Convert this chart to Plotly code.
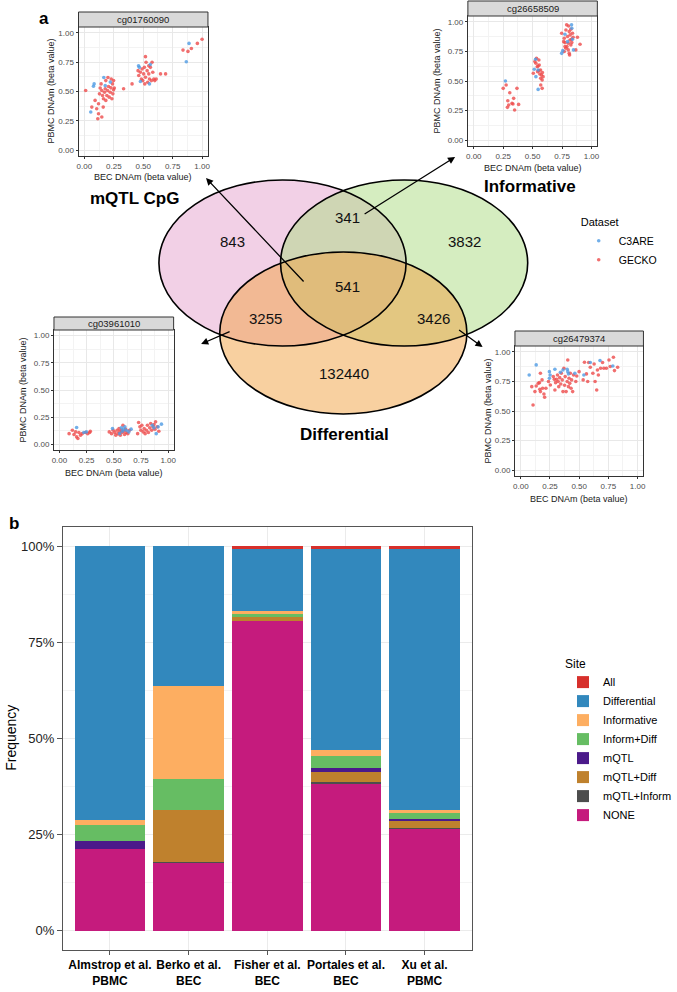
import plotly.graph_objects as go

W, H = 677, 992
FONT = "Liberation Sans, Arial, sans-serif"


def px(x):
    return x / W


def py(y):
    return 1 - y / H


# ---------------- panel b: stacked bars (% of sites) ----------------
studies = ["Almstrop et al.<br>PBMC", "Berko et al.<br>BEC", "Fisher et al.<br>BEC",
           "Portales et al.<br>BEC", "Xu et al.<br>PBMC"]
site_names = ["NONE", "mQTL+Inform", "mQTL+Diff", "mQTL", "Inform+Diff",
              "Informative", "Differential", "All"]
site_colors = ["#C51B7D", "#4D4D4D", "#BF812D", "#4B1A8A", "#66BD63",
               "#FDAE61", "#3288BD", "#D7302C"]
none_pct = [21.3, 17.7, 80.5, 38.4, 26.7]
mqtl_inform_pct = [0.0, 0.2, 0.0, 0.2, 0.1]
mqtl_diff_pct = [0.0, 13.5, 1.0, 2.7, 1.8]
mqtl_pct = [2.1, 0.0, 0.0, 1.0, 0.5]
inform_diff_pct = [4.1, 8.0, 0.8, 3.2, 1.6]
informative_pct = [1.3, 24.3, 0.8, 1.4, 0.7]
differential_pct = [71.2, 36.3, 16.4, 52.6, 68.1]
all_pct = [0.0, 0.0, 0.5, 0.5, 0.5]
site_values = [none_pct, mqtl_inform_pct, mqtl_diff_pct, mqtl_pct,
               inform_diff_pct, informative_pct, differential_pct, all_pct]

# ---------------- panel a: venn counts ----------------
venn_counts = [843, 341, 3832, 541, 3255, 3426, 132440]
venn_sets = ["mQTL CpG", "Informative", "Differential"]

# ---------------- panel a: example CpGs, (BEC, PBMC) beta values ----------------
cg01760090_gecko = [
    (0.011, 0.508), (0.063, 0.367), (0.091, 0.424), (0.105, 0.353), (0.114, 0.268),
    (0.12, 0.395), (0.128, 0.48), (0.134, 0.53), (0.142, 0.565), (0.148, 0.508),
    (0.154, 0.466), (0.16, 0.367), (0.162, 0.438), (0.171, 0.494), (0.177, 0.523),
    (0.182, 0.593), (0.191, 0.466), (0.197, 0.508), (0.2, 0.62), (0.205, 0.542),
    (0.211, 0.452), (0.219, 0.494), (0.225, 0.531), (0.228, 0.607), (0.234, 0.438),
    (0.239, 0.565), (0.242, 0.48), (0.248, 0.593), (0.248, 0.514), (0.254, 0.53),
    (0.148, 0.282), (0.12, 0.31), (0.182, 0.424), (0.333, 0.523), (0.405, 0.565),
    (0.456, 0.678), (0.462, 0.636), (0.476, 0.664), (0.484, 0.607), (0.49, 0.692),
    (0.496, 0.593), (0.504, 0.65), (0.51, 0.706), (0.519, 0.797), (0.519, 0.621),
    (0.524, 0.749), (0.533, 0.678), (0.538, 0.579), (0.547, 0.65), (0.553, 0.607),
    (0.561, 0.706), (0.57, 0.593), (0.575, 0.749), (0.581, 0.664), (0.59, 0.607),
    (0.598, 0.593), (0.61, 0.607), (0.647, 0.65), (0.69, 0.65), (0.547, 0.72),
    (0.513, 0.565), (0.838, 0.853), (0.88, 0.842), (0.909, 0.867), (0.96, 0.91),
    (1.0, 0.946),
]
cg01760090_c3are = [
    (0.083, 0.565), (0.077, 0.545), (0.054, 0.325), (0.165, 0.62), (0.177, 0.55),
    (0.22, 0.58), (0.46, 0.72), (0.467, 0.706), (0.476, 0.585), (0.56, 0.73),
    (0.553, 0.565), (0.866, 0.754), (0.889, 0.91),
]
cg26658509_gecko = [
    (0.25, 0.438), (0.275, 0.466), (0.306, 0.401), (0.289, 0.333), (0.297, 0.297),
    (0.286, 0.277), (0.325, 0.311), (0.339, 0.353), (0.333, 0.305), (0.347, 0.254),
    (0.367, 0.438), (0.381, 0.302), (0.506, 0.565), (0.519, 0.664), (0.528, 0.65),
    (0.533, 0.692), (0.539, 0.621), (0.542, 0.579), (0.553, 0.678), (0.556, 0.636),
    (0.561, 0.559), (0.567, 0.593), (0.569, 0.523), (0.575, 0.551), (0.581, 0.508),
    (0.583, 0.571), (0.589, 0.537), (0.569, 0.466), (0.581, 0.438), (0.553, 0.588),
    (0.547, 0.627), (0.747, 0.904), (0.769, 0.862), (0.775, 0.825), (0.783, 0.932),
    (0.789, 0.975), (0.792, 0.791), (0.797, 0.876), (0.803, 0.819), (0.806, 0.966),
    (0.811, 0.918), (0.811, 0.734), (0.817, 0.847), (0.819, 0.89), (0.825, 0.805),
    (0.825, 0.938), (0.831, 0.853), (0.833, 0.825), (0.839, 0.904), (0.844, 0.87),
    (0.769, 0.749), (0.783, 0.777), (0.803, 0.763), (0.814, 0.72), (0.867, 0.763),
    (0.881, 0.87), (0.903, 0.811), (0.775, 0.791), (0.764, 0.833),
]
cg26658509_c3are = [
    (0.269, 0.5), (0.525, 0.684), (0.514, 0.599), (0.528, 0.537), (0.547, 0.593),
    (0.547, 0.429), (0.747, 0.734), (0.756, 0.757), (0.775, 0.895), (0.797, 0.833),
    (0.833, 0.946), (0.839, 0.853), (0.847, 0.763), (0.831, 0.975),
]
cg03961010_gecko = [
    (0.089, 0.1), (0.119, 0.131), (0.134, 0.092), (0.149, 0.116), (0.158, 0.07),
    (0.17, 0.055), (0.179, 0.11), (0.194, 0.086), (0.209, 0.1), (0.239, 0.11),
    (0.26, 0.1), (0.284, 0.122), (0.278, 0.11), (0.458, 0.116), (0.479, 0.1),
    (0.494, 0.131), (0.509, 0.11), (0.518, 0.086), (0.53, 0.131), (0.539, 0.1),
    (0.548, 0.147), (0.554, 0.116), (0.56, 0.086), (0.569, 0.131), (0.575, 0.11),
    (0.584, 0.177), (0.59, 0.122), (0.599, 0.092), (0.608, 0.141), (0.614, 0.11),
    (0.629, 0.1), (0.644, 0.131), (0.728, 0.202), (0.74, 0.162), (0.749, 0.131),
    (0.758, 0.177), (0.77, 0.116), (0.779, 0.147), (0.788, 0.1), (0.8, 0.131),
    (0.809, 0.177), (0.818, 0.11), (0.83, 0.153), (0.839, 0.193), (0.848, 0.131),
    (0.86, 0.162), (0.869, 0.183), (0.878, 0.141), (0.884, 0.208), (0.899, 0.162),
    (0.914, 0.122), (0.719, 0.1),
]
cg03961010_c3are = [
    (0.158, 0.156), (0.224, 0.11), (0.248, 0.116), (0.488, 0.147), (0.569, 0.153),
    (0.578, 0.122), (0.59, 0.141), (0.602, 0.162), (0.614, 0.131), (0.638, 0.116),
    (0.659, 0.141), (0.554, 0.1), (0.854, 0.177), (0.869, 0.153), (0.89, 0.1),
    (0.938, 0.187), (0.908, 0.162),
]
cg26479374_gecko = [
    (0.105, 0.551), (0.094, 0.706), (0.121, 0.664), (0.132, 0.712), (0.149, 0.734),
    (0.16, 0.74), (0.163, 0.684), (0.168, 0.664), (0.182, 0.763), (0.187, 0.692),
    (0.198, 0.644), (0.204, 0.616), (0.215, 0.692), (0.168, 0.819), (0.237, 0.749),
    (0.253, 0.72), (0.278, 0.791), (0.287, 0.768), (0.292, 0.678), (0.298, 0.74),
    (0.306, 0.768), (0.314, 0.805), (0.32, 0.749), (0.325, 0.706), (0.333, 0.782),
    (0.342, 0.729), (0.347, 0.819), (0.355, 0.763), (0.361, 0.664), (0.369, 0.862),
    (0.375, 0.718), (0.38, 0.791), (0.388, 0.664), (0.397, 0.749), (0.402, 0.932),
    (0.408, 0.706), (0.413, 0.777), (0.419, 0.734), (0.424, 0.819), (0.43, 0.692),
    (0.435, 0.763), (0.444, 0.664), (0.452, 0.805), (0.471, 0.749), (0.479, 0.796),
    (0.499, 0.833), (0.534, 0.763), (0.545, 0.912), (0.562, 0.814), (0.573, 0.749),
    (0.581, 0.91), (0.595, 0.87), (0.617, 0.819), (0.628, 0.898), (0.636, 0.749),
    (0.65, 0.678), (0.656, 0.847), (0.664, 0.805), (0.683, 0.862), (0.7, 0.91),
    (0.711, 0.862), (0.733, 0.862), (0.755, 0.932), (0.766, 0.876), (0.793, 0.955),
    (0.802, 0.842), (0.829, 0.87),
]
cg26479374_c3are = [
    (0.072, 0.805), (0.132, 0.89), (0.245, 0.833), (0.251, 0.805), (0.245, 0.777),
    (0.292, 0.853), (0.339, 0.828), (0.361, 0.847), (0.397, 0.853), (0.402, 0.833),
    (0.408, 0.814), (0.463, 0.819), (0.595, 0.91), (0.678, 0.927), (0.788, 0.881),
    (0.54, 0.805),
]

GECKO_COL = "#EE4B4B"
C3ARE_COL = "#4F9BE3"

fig = go.Figure()


def note(text, x, y, size, angle=0, xanchor="center", color="#1A1A1A"):
    # plain text placed in page pixels
    return dict(text=text, xref="paper", yref="paper", x=px(x), y=py(y),
                xanchor=xanchor, yanchor="middle", textangle=angle, showarrow=False,
                font=dict(size=size, color=color))


# ---------------- bars ----------------
for name, col, vals in zip(site_names, site_colors, site_values):
    fig.add_trace(go.Bar(
        x=studies, y=[v / 100 for v in vals], name=name,
        marker=dict(color=col, line=dict(width=0)), width=0.9,
        xaxis="x", yaxis="y", legend="legend",
    ))

# ---------------- scatter panels ----------------
# (cpg, gecko, c3are, panel box l,t,r,b in px, ytitle x, xtitle y)
panels = [
    ("cg01760090", cg01760090_gecko, cg01760090_c3are, (78, 27, 210, 156), 49, 177),
    ("cg26658509", cg26658509_gecko, cg26658509_c3are, (475, 16, 607, 146), 444, 168),
    ("cg03961010", cg03961010_gecko, cg03961010_c3are, (53, 330, 175, 450), 21, 473),
    ("cg26479374", cg26479374_gecko, cg26479374_c3are, (523, 346, 654, 476), 496, 499),
]

shapes = []
annotations = []
layout_axes = {}

for i, (cpg, gecko, c3are, box, ytx, xty) in enumerate(panels):
    n = i + 2
    l, t, r, b = box
    for nm, pts, col in (("GECKO", gecko, GECKO_COL), ("C3ARE", c3are, C3ARE_COL)):
        fig.add_trace(go.Scatter(
            x=[p[0] for p in pts], y=[p[1] for p in pts], mode="markers", name=nm,
            marker=dict(color=col, size=3.6, opacity=0.8),
            xaxis=f"x{n}", yaxis=f"y{n}", legend="legend2",
            legendgroup=nm, showlegend=(i == 0),
        ))
    ax = dict(
        range=[-0.05, 1.05], tickvals=[0, 0.25, 0.5, 0.75, 1],
        ticktext=["0.00", "0.25", "0.50", "0.75", "1.00"],
        showgrid=True, gridcolor="#E8E8E8", gridwidth=0.8,
        minor=dict(tickvals=[0.125, 0.375, 0.625, 0.875], showgrid=True,
                   gridcolor="#F3F3F3", gridwidth=0.6),
        zeroline=False, showline=True, mirror=True, linecolor="#333333", linewidth=1,
        ticks="outside", ticklen=2, tickcolor="#333333",
        tickfont=dict(size=8, color="#4D4D4D"), fixedrange=True,
    )
    layout_axes[f"xaxis{n}"] = dict(ax, domain=[px(l), px(r)], anchor=f"y{n}")
    layout_axes[f"yaxis{n}"] = dict(ax, domain=[py(b), py(t)], anchor=f"x{n}")
    # facet strip
    strip_h = 15 if i != 2 else 13
    shapes.append(dict(type="rect", xref="paper", yref="paper",
                       x0=px(l), x1=px(r), y0=py(t), y1=py(t - strip_h),
                       fillcolor="#D9D9D9", line=dict(color="#333333", width=1)))
    annotations.append(note(cpg, (l + r) / 2, t - strip_h / 2, 9.5))
    annotations.append(note("PBMC DNAm (beta value)", ytx, (t + b) / 2, 9, angle=-90))
    annotations.append(note("BEC DNAm (beta value)", (l + r) / 2, xty, 9))

# ---------------- venn ellipses ----------------
ellipses = [
    ((160, 180, 412, 346), "rgba(229,161,205,0.5)"),
    ((284, 180, 536, 346), "rgba(171,219,129,0.5)"),
    ((222, 252, 474, 414), "rgba(241,161,65,0.5)"),
]
for (x0, y0, x1, y1), fc in ellipses:
    shapes.append(dict(type="circle", xref="paper", yref="paper", x0=px(x0), x1=px(x1),
                       y0=py(y1), y1=py(y0), fillcolor=fc, line=dict(width=0)))
for (x0, y0, x1, y1), fc in ellipses:
    shapes.append(dict(type="circle", xref="paper", yref="paper", x0=px(x0), x1=px(x1),
                       y0=py(y1), y1=py(y0), line=dict(color="black", width=1.6)))

venn_label_pos = [(235, 242), (352, 218), (472, 242), (352, 286), (269, 319), (440, 319), (349, 373)]
for cnt, (x, y) in zip(venn_counts, venn_label_pos):
    annotations.append(note(str(cnt), x, y, 15, color="#111111"))

set_label_pos = [(183, 198, "right"), (587, 187, "right"), (349, 434, "center")]
for name, (x, y, anc) in zip(venn_sets, set_label_pos):
    annotations.append(note(f"<b>{name}</b>", x, y, 17, xanchor=anc, color="black"))

# arrows from venn regions to example panels (head, tail)
arrows = [((208, 178), (307, 283)), ((462, 157), (370, 215)),
          ((203, 344), (233, 331)), ((490, 347), (465, 329))]
for (hx, hy), (tx, ty) in arrows:
    annotations.append(dict(text="", xref="paper", yref="paper", x=px(hx), y=py(hy),
                            ax=tx - hx, ay=ty - hy, showarrow=True, arrowhead=2,
                            arrowsize=1.1, arrowwidth=1.3, arrowcolor="black"))

# panel letters and bar axis title
annotations.append(note("<b>a</b>", 43, 18, 17, color="black"))
annotations.append(note("<b>b</b>", 12, 523, 17, color="black"))
annotations.append(note("Frequency", 9, 738, 14, angle=-90, color="black"))

fig.update_layout(
    width=W, height=H, margin=dict(l=0, r=0, t=0, b=0),
    paper_bgcolor="white", plot_bgcolor="rgba(0,0,0,0)",
    font=dict(family=FONT, color="black"),
    barmode="stack", bargap=0.1,
    shapes=shapes, annotations=annotations,
    xaxis=dict(domain=[px(62), px(479)], anchor="y", range=[-0.6, 4.6],
               showgrid=True, gridcolor="#EBEBEB", showline=True, mirror=True,
               linecolor="#555555", linewidth=1, ticks="outside", ticklen=4,
               tickcolor="#555555", tickfont=dict(size=12, color="black"),
               tickvals=studies, ticktext=[f"<b>{s}</b>" for s in studies],
               fixedrange=True),
    yaxis=dict(domain=[py(950), py(527)], anchor="x", range=[-0.05, 1.05],
               tick0=0, dtick=0.25, tickformat=".0%", showgrid=True, gridcolor="#EBEBEB",
               minor=dict(dtick=0.125, showgrid=True, gridcolor="#F4F4F4"),
               zeroline=False, showline=True, mirror=True, linecolor="#555555",
               linewidth=1, ticks="outside", ticklen=5, tickcolor="#555555",
               tickfont=dict(size=13, color="#222222"), fixedrange=True),
    legend=dict(title=dict(text="Site", font=dict(size=12)), x=px(572), y=py(652),
                xanchor="left", yanchor="top", traceorder="reversed",
                font=dict(size=11), bgcolor="rgba(0,0,0,0)", tracegroupgap=0),
    legend2=dict(title=dict(text="Dataset", font=dict(size=11)), x=px(588), y=py(212),
                 xanchor="left", yanchor="top", traceorder="reversed",
                 font=dict(size=10.5), bgcolor="rgba(0,0,0,0)"),
    **layout_axes,
)

fig.write_html("out.html", config={"displayModeBar": False},
               post_script="document.body.style.margin='0';")
